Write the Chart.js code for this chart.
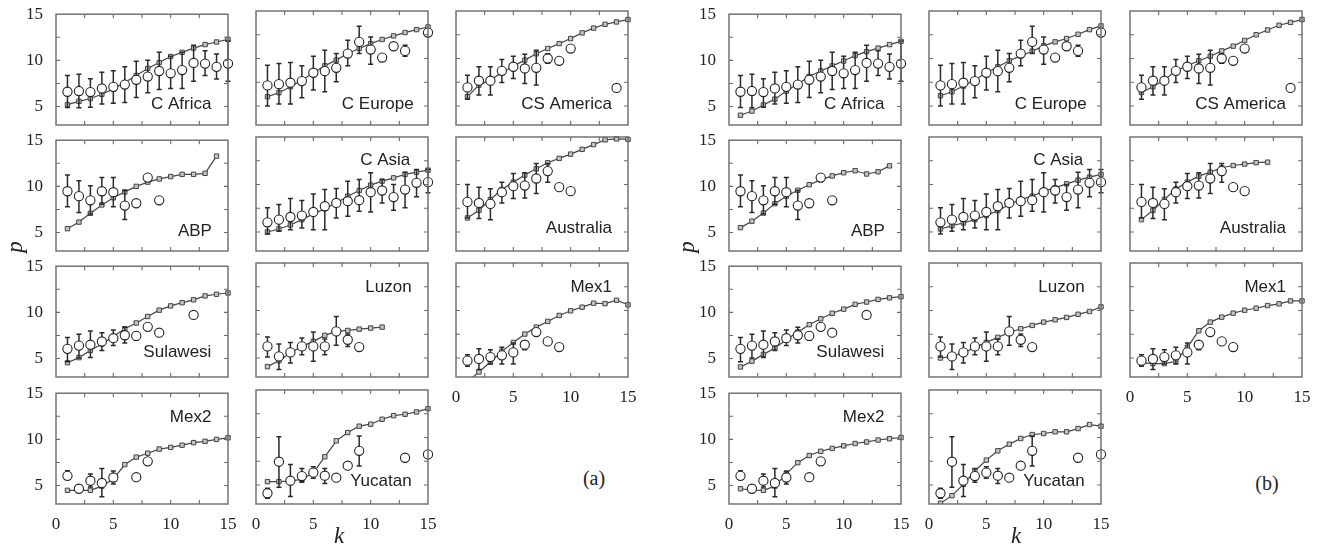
<!DOCTYPE html>
<html>
<head>
<meta charset="utf-8">
<script src="https://cdn.jsdelivr.net/npm/chart.js@4.4.1/dist/chart.umd.min.js"></script>
<style>
body { margin: 0; background: #fff; }
#fig { position: relative; width: 1319px; height: 548px; overflow: hidden; }
#fig canvas { position: absolute; }
.lbl { position: absolute; font-family: 'Liberation Serif', serif; color: #222; white-space: nowrap; transform: translate(-50%, -50%); }
</style>
</head>
<body>
<div id="fig"></div>
<script>
// k values and axis ticks
const K = [1, 2, 3, 4, 5, 6, 7, 8, 9, 10, 11, 12, 13, 14, 15];
const X_TICKS = [0, 2.5, 5, 7.5, 10, 12.5, 15];
const Y_TICKS = [5, 7.5, 10, 12.5, 15];

// C Africa
const cAfricaObs = [6.6, 6.68, 6.57, 6.96, 7.13, 7.38, 7.9, 8.25, 8.85, 8.6, 8.95, 9.72, 9.65, 9.3, 9.65];
const cAfricaLo = [4.9, 4.86, 4.93, 5.28, 5.35, 5.45, 5.98, 6.5, 6.85, 6.96, 6.96, 7.73, 8.36, 7.97, 7.73];
const cAfricaHi = [8.35, 8.5, 8.0, 8.7, 8.88, 9.3, 9.9, 10.0, 10.87, 10.45, 10.87, 11.64, 11.05, 10.7, 12.1];
const cAfricaModelA = [5.21, 5.56, 5.87, 6.33, 6.9, 7.6, 8.36, 9.13, 9.76, 10.42, 10.87, 11.33, 11.71, 11.99, 12.27];
const cAfricaModelB = [4.06, 4.51, 5.17, 5.8, 6.68, 7.45, 8.25, 8.85, 9.4, 9.93, 10.52, 10.94, 11.33, 11.71, 12.05];

// C Europe
const cEuropeObs = [7.17, 7.3, 7.45, 7.62, 8.5, 8.67, 9.02, 10.52, 11.75, 10.94, 10.1, 11.29, 10.8, null, 12.73];
const cEuropeLo = [5.0, 5.2, 5.2, 5.87, 6.68, 6.5, 7.55, 9.23, 10.52, 9.4, null, null, 10.24, null, null];
const cEuropeHi = [9.3, 9.48, 9.58, 9.23, 10.24, 10.87, 10.52, 11.92, 13.39, 12.27, null, null, 11.4, null, null];
const cEuropeModelA = [5.98, 6.4, 7.03, 7.7, 8.5, 9.23, 9.83, 10.52, 11.05, 11.57, 12.0, 12.38, 12.73, 13.04, 13.32];
const cEuropeModelB = [6.08, 6.5, 7.1, 7.73, 8.5, 9.13, 9.76, 10.28, 10.77, 11.33, 11.75, 12.1, 12.55, 13.04, 13.43];

// CS America
const csAmericaObs = [6.96, 7.66, 7.66, 8.7, 9.13, 8.95, 9.02, 10.0, 9.76, 11.05, null, null, null, 6.9, null];
const csAmericaLo = [5.7, 6.15, 6.15, 7.48, 7.9, 7.38, 7.2, 9.5, null, null, null, null, null, null, null];
const csAmericaHi = [8.25, 9.13, 9.13, 9.9, 10.24, 10.45, 10.87, 10.5, null, null, null, null, null, null, null];
const csAmericaModelA = [5.98, 7.2, 7.75, 8.5, 9.2, 9.83, 10.5, 11.05, 11.57, 12.1, 12.7, 13.2, 13.6, 13.85, 14.1];
const csAmericaModelB = [6.43, 7.03, 7.73, 8.7, 9.23, 9.76, 10.24, 10.8, 11.3, 11.9, 12.5, 13.0, 13.5, 13.8, 14.1];

// ABP
const abpObs = [9.47, 8.94, 8.49, 9.47, 9.37, 7.92, 8.17, 10.95, 8.49];
const abpLo = [7.78, 7.18, 7.0, 8.06, 7.78, 6.41, 7.92, null, null];
const abpHi = [11.23, 10.6, 10.07, 10.95, 10.95, 9.54, 8.42, null, null];
const abpModelA = [5.42, 6.13, 7.08, 7.99, 8.77, 9.4, 10.0, 10.46, 10.81, 11.06, 11.3, 11.3, 11.41, 13.27];
const abpModelB = [5.53, 6.23, 7.11, 8.13, 8.94, 9.58, 10.18, 10.7, 11.13, 11.48, 11.69, 11.34, 11.58, 12.22];

// C Asia
const cAsiaObs = [6.02, 6.3, 6.58, 6.73, 7.11, 7.71, 8.06, 8.24, 8.35, 9.19, 9.37, 8.68, 9.47, 10.18, 10.25];
const cAsiaLo = [4.79, 5.07, 5.25, 5.42, 5.25, 5.25, 6.48, 6.65, 7.18, 7.11, 8.06, 7.3, 7.54, 8.7, 9.12];
const cAsiaHi = [7.54, 7.89, 8.52, 8.31, 9.01, 9.47, 9.58, 10.35, 10.53, 11.23, 10.53, 10.0, 11.3, 11.58, 11.58];
const cAsiaModelA = [5.0, 5.32, 5.74, 6.3, 6.9, 7.46, 8.06, 8.77, 9.37, 9.93, 10.35, 10.7, 11.06, 11.3, 11.51];
const cAsiaModelB = [5.32, 5.67, 5.95, 6.3, 6.73, 7.25, 7.89, 8.42, 8.77, 9.3, 9.65, 10.07, 10.46, 10.77, 11.06];

// Australia
const australiaObs = [8.17, 8.06, 7.96, 9.19, 9.82, 9.89, 10.63, 11.41, 9.72, 9.3];
const australiaLo = [6.48, 6.41, 6.3, 8.06, 8.52, 8.59, 9.05, 10.25, null, null];
const australiaHi = [10.0, 9.72, 9.54, 10.25, 11.16, 11.23, 12.22, 12.22, null, null];
const australiaModelA = [6.48, 7.29, 8.42, 9.47, 10.25, 10.99, 11.65, 12.29, 12.75, 13.2, 13.7, 14.2, 14.7, 14.8, 14.75];
const australiaModelB = [6.3, 7.29, 8.42, 9.54, 10.25, 10.88, 11.3, 11.76, 12.0, 12.15, 12.3, 12.35];

// Sulawesi
const sulawesiObs = [6.05, 6.4, 6.5, 6.85, 7.2, 7.52, 7.45, 8.43, 7.8, null, null, 9.72];
const sulawesiLo = [4.65, 5.07, 5.1, 5.87, 6.4, 6.68, 6.99, null, null, null, null, null];
const sulawesiHi = [7.27, 7.62, 7.97, 7.8, 8.08, 8.39, 7.9, null, null, null, null, null];
const sulawesiModelA = [4.55, 5.1, 5.87, 6.57, 7.38, 8.22, 8.85, 9.55, 10.24, 10.7, 11.05, 11.36, 11.78, 11.96, 12.1];
const sulawesiModelB = [4.09, 4.72, 5.45, 6.15, 7.03, 7.87, 8.67, 9.3, 9.9, 10.35, 10.87, 11.12, 11.4, 11.57, 11.7];

// Luzon
const luzonObs = [6.22, 5.17, 5.59, 6.22, 6.22, 6.22, 7.8, 6.92, 6.15];
const luzonLo = [5.1, 3.78, 4.48, 5.35, 4.65, 5.35, 6.33, 6.22, null];
const luzonHi = [7.2, 6.47, 6.64, 7.1, 7.73, 6.99, 9.37, 7.52, null];
const luzonModelA = [4.09, 4.72, 5.52, 6.22, 6.75, 7.38, 7.8, 7.9, 8.04, 8.15, 8.25];
const luzonModelB = [5.0, 5.17, 5.52, 6.12, 6.64, 7.17, 7.69, 8.08, 8.43, 8.78, 9.02, 9.27, 9.6, 9.9, 10.38];

// Mex1
const mex1Obs = [4.72, 4.9, 5.1, 5.28, 5.59, 6.4, 7.73, 6.75, 6.15];
const mex1Lo = [4.13, 3.78, 4.37, 4.37, 4.37, 5.87, null, null, null];
const mex1Hi = [5.35, 5.98, 5.87, 6.12, 6.57, 6.75, null, null, null];
const mex1ModelA = [2.5, 3.53, 4.58, 5.7, 6.64, 7.52, 8.25, 8.85, 9.48, 9.97, 10.35, 10.77, 10.73, 11.08, 10.6];
const mex1ModelB = [4.48, 4.41, 4.41, 4.65, 6.12, 7.87, 8.78, 9.3, 9.72, 10.03, 10.24, 10.52, 10.7, 11.01, 11.01];

// Mex2
const mex2Obs = [6.05, 4.65, 5.52, 5.28, 5.87, null, 5.9, 7.62];
const mex2Lo = [5.7, 4.48, 4.83, 3.78, 5.17, null, null, null];
const mex2Hi = [6.61, 5.0, 6.26, 6.85, 6.57, null, null, null];
const mex2ModelA = [4.48, 4.48, 4.48, 4.93, 5.7, 7.27, 8.08, 8.5, 8.95, 9.13, 9.37, 9.65, 9.79, 10.0, 10.17];
const mex2ModelB = [4.65, 4.51, 4.48, 4.93, 6.26, 7.48, 8.25, 8.71, 9.02, 9.3, 9.55, 9.72, 9.93, 10.07, 10.2];

// Yucatan
const yucatanObs = [4.13, 7.45, 5.45, 5.94, 6.3, 5.98, 5.77, 7.03, 8.6, null, null, null, 7.87, null, 8.22];
const yucatanLo = [3.6, 4.76, 3.78, 5.28, 5.7, 5.17, null, null, 6.99, null, null, null, null, null, 7.9];
const yucatanHi = [4.65, 10.07, 7.17, 6.75, 6.92, 6.75, null, null, 10.17, null, null, null, null, null, 8.5];
const yucatanModelA = [5.35, 5.35, 5.42, 5.59, 6.3, 7.97, 9.65, 10.52, 11.19, 11.4, 11.92, 12.3, 12.45, 12.69, 13.04];
const yucatanModelB = [3.08, 3.88, 5.07, 6.47, 7.62, 8.6, 9.3, 9.9, 10.31, 10.42, 10.6, 10.6, 10.94, 11.36, 11.19];

const regions = [
  { name: 'C Africa', obs: cAfricaObs, lo: cAfricaLo, hi: cAfricaHi, a: cAfricaModelA, b: cAfricaModelB },
  { name: 'C Europe', obs: cEuropeObs, lo: cEuropeLo, hi: cEuropeHi, a: cEuropeModelA, b: cEuropeModelB },
  { name: 'CS America', obs: csAmericaObs, lo: csAmericaLo, hi: csAmericaHi, a: csAmericaModelA, b: csAmericaModelB },
  { name: 'ABP', obs: abpObs, lo: abpLo, hi: abpHi, a: abpModelA, b: abpModelB },
  { name: 'C Asia', obs: cAsiaObs, lo: cAsiaLo, hi: cAsiaHi, a: cAsiaModelA, b: cAsiaModelB },
  { name: 'Australia', obs: australiaObs, lo: australiaLo, hi: australiaHi, a: australiaModelA, b: australiaModelB },
  { name: 'Sulawesi', obs: sulawesiObs, lo: sulawesiLo, hi: sulawesiHi, a: sulawesiModelA, b: sulawesiModelB },
  { name: 'Luzon', obs: luzonObs, lo: luzonLo, hi: luzonHi, a: luzonModelA, b: luzonModelB },
  { name: 'Mex1', obs: mex1Obs, lo: mex1Lo, hi: mex1Hi, a: mex1ModelA, b: mex1ModelB },
  { name: 'Mex2', obs: mex2Obs, lo: mex2Lo, hi: mex2Hi, a: mex2ModelA, b: mex2ModelB },
  { name: 'Yucatan', obs: yucatanObs, lo: yucatanLo, hi: yucatanHi, a: yucatanModelA, b: yucatanModelB },
];

// layout (pixels) and where each region name sits (data units: right edge, middle)
const COLS = { a: [56, 256, 456], b: [729, 929, 1130] };
const ROWS = [11, 137, 263, 390];
const PW = 172, PH = 114;
const PADL = 36, PADT = 12, PADR = 16, PADB = 30;
const NAME_POS = [[13.55, 5.2], [13.75, 5.2], [13.6, 5.2], [13.6, 5.1], [13.45, 12.5], [13.6, 5.4],
                  [13.55, 5.7], [13.57, 12.44], [13.6, 12.44], [13.55, 12.44], [13.57, 5.4]];

const fig = document.getElementById('fig');
const pts = (arr) => arr.map((v, i) => ({ x: K[i], y: v })).filter(p => p.y != null);

const panelPlugin = {
  id: 'panel',
  afterDatasetDraw(chart, args) {
    if (args.index !== 0) return;
    // error bars go over the model line, under the open circles
    const r = chart.options.$region, xs = chart.scales.x, ys = chart.scales.y, ctx = chart.ctx;
    ctx.save();
    ctx.strokeStyle = '#2a2a2a';
    ctx.lineWidth = 1.5;
    r.lo.forEach((lo, i) => {
      if (lo == null) return;
      const px = xs.getPixelForValue(K[i]);
      const y1 = ys.getPixelForValue(lo), y2 = ys.getPixelForValue(r.hi[i]);
      ctx.beginPath();
      ctx.moveTo(px, y1); ctx.lineTo(px, y2);
      ctx.moveTo(px - 2.5, y1); ctx.lineTo(px + 2.5, y1);
      ctx.moveTo(px - 2.5, y2); ctx.lineTo(px + 2.5, y2);
      ctx.stroke();
    });
    ctx.restore();
  },
  afterDraw(chart) {
    const { ctx, chartArea: ca } = chart;
    const xs = chart.scales.x, ys = chart.scales.y;
    ctx.save();
    ctx.strokeStyle = '#6a6a6a';
    ctx.lineWidth = 1.4;
    ctx.strokeRect(ca.left, ca.top, ca.right - ca.left, ca.bottom - ca.top);
    ctx.lineWidth = 1.1;
    ctx.beginPath();
    xs.ticks.forEach(t => {
      if (t.value <= 0 || t.value >= 15) return;
      const px = xs.getPixelForValue(t.value);
      ctx.moveTo(px, ca.bottom); ctx.lineTo(px, ca.bottom - 4);
      ctx.moveTo(px, ca.top); ctx.lineTo(px, ca.top + 4);
    });
    ys.ticks.forEach(t => {
      if (t.value >= 15) return;
      const py = ys.getPixelForValue(t.value);
      ctx.moveTo(ca.left, py); ctx.lineTo(ca.left + 4, py);
      ctx.moveTo(ca.right, py); ctx.lineTo(ca.right - 4, py);
    });
    ctx.stroke();
    const pos = chart.options.$namePos;
    ctx.fillStyle = '#222';
    ctx.font = '17px "Liberation Sans", Arial, sans-serif';
    ctx.textAlign = 'right';
    ctx.textBaseline = 'middle';
    ctx.fillText(chart.options.$region.name, xs.getPixelForValue(pos[0]), ys.getPixelForValue(pos[1]));
    ctx.restore();
  }
};

function drawPanel(region, idx, which) {
  const row = Math.floor(idx / 3), col = idx % 3;
  const left = COLS[which][col], top = ROWS[row];
  const showX = row === 3 || (row === 2 && col === 2);
  const showY = col === 0;
  const cv = document.createElement('canvas');
  cv.width = PADL + PW + PADR;
  cv.height = PADT + PH + PADB;
  cv.style.left = (left - PADL) + 'px';
  cv.style.top = (top - PADT) + 'px';
  fig.appendChild(cv);
  const tickFont = { family: 'Liberation Serif', size: 17 };
  new Chart(cv, {
    type: 'scatter',
    data: {
      datasets: [
        {
          data: pts(region[which]),
          showLine: true,
          borderColor: '#454545',
          borderWidth: 1.2,
          pointStyle: 'rect',
          pointRadius: 3.1,
          pointBackgroundColor: '#c4c4c4',
          pointBorderColor: '#444',
          pointBorderWidth: 1,
          clip: { left: 6, right: 6, top: 6, bottom: 0 },
          order: 2
        },
        {
          data: pts(region.obs),
          showLine: false,
          pointStyle: 'circle',
          pointRadius: 4.6,
          pointBackgroundColor: '#fff',
          pointBorderColor: '#222',
          pointBorderWidth: 1.1,
          clip: false,
          order: 1
        }
      ]
    },
    options: {
      $region: region,
      $namePos: NAME_POS[idx],
      responsive: false,
      animation: false,
      devicePixelRatio: 1,
      events: [],
      layout: { padding: { left: 0, top: PADT, right: PADR, bottom: 0 } },
      plugins: { legend: { display: false }, tooltip: { enabled: false } },
      scales: {
        x: {
          type: 'linear', min: 0, max: 15,
          afterBuildTicks: s => { s.ticks = X_TICKS.map(v => ({ value: v })); },
          afterFit: s => { s.height = PADB; },
          grid: { display: false }, border: { display: false },
          ticks: {
            display: showX, autoSkip: false, maxRotation: 0, padding: 2,
            font: tickFont, color: '#222',
            callback: v => (v % 5 === 0 ? String(v) : '')
          }
        },
        y: {
          type: 'linear', min: 3, max: 15,
          afterBuildTicks: s => { s.ticks = Y_TICKS.map(v => ({ value: v })); },
          afterFit: s => { s.width = PADL; },
          grid: { display: false }, border: { display: false },
          ticks: {
            display: showY, autoSkip: false, padding: 5,
            font: tickFont, color: '#222',
            callback: v => (v % 5 === 0 ? String(v) : '')
          }
        }
      }
    },
    plugins: [panelPlugin]
  });
}

regions.forEach((r, i) => drawPanel(r, i, 'a'));
regions.forEach((r, i) => drawPanel(r, i, 'b'));

// axis titles and panel tags
function addLabel(text, x, y, css) {
  const d = document.createElement('div');
  d.className = 'lbl';
  d.textContent = text;
  d.style.left = x + 'px';
  d.style.top = y + 'px';
  Object.assign(d.style, css || {});
  fig.appendChild(d);
}
addLabel('p', 15, 247, { fontSize: '23px', fontStyle: 'italic', transform: 'translate(-50%, -50%) rotate(-90deg)' });
addLabel('p', 687, 247, { fontSize: '23px', fontStyle: 'italic', transform: 'translate(-50%, -50%) rotate(-90deg)' });
addLabel('k', 339, 536, { fontSize: '23px', fontStyle: 'italic' });
addLabel('k', 1016, 536, { fontSize: '23px', fontStyle: 'italic' });
addLabel('(a)', 594, 478, { fontSize: '20px' });
addLabel('(b)', 1267, 483, { fontSize: '20px' });
</script>
</body>
</html>
